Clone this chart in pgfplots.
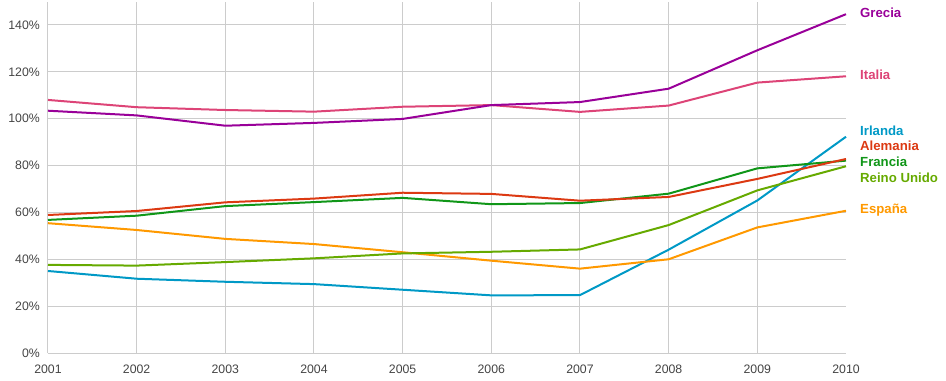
\documentclass[border=0pt]{standalone}
\usepackage{pgfplots}
\pgfplotsset{compat=1.18}
\usepackage{fontspec}
\setmainfont{Liberation Sans}
\definecolor{cGre}{HTML}{990099}
\definecolor{cIta}{HTML}{DD4477}
\definecolor{cIrl}{HTML}{0099C6}
\definecolor{cAle}{HTML}{DC3912}
\definecolor{cFra}{HTML}{109618}
\definecolor{cRei}{HTML}{66AA00}
\definecolor{cEsp}{HTML}{FF9900}
\definecolor{gridgray}{HTML}{CCCCCC}
\definecolor{ticktext}{HTML}{444444}
\begin{document}
\begin{tikzpicture}[x=1bp,y=1bp]
\useasboundingbox (-48,-27) rectangle (898,353);
\begin{axis}[
  scale only axis, width=798bp, height=351bp,
  xmin=2001, xmax=2010, ymin=0, ymax=149.8,
  xtick={2001,2002,...,2009}, ytick={0,20,...,140},
  extra x ticks={2010}, extra x tick style={grid=none},
  xticklabel style={/pgf/number format/1000 sep={}, /pgf/number format/assume math mode=true, anchor=base, inner sep=0pt, yshift=-20bp, font=\fontsize{12.3bp}{14bp}\selectfont, text=ticktext},
  yticklabel={\pgfmathprintnumber[assume math mode=true]{\tick}\%},
  yticklabel style={anchor=east, inner sep=0pt, xshift=-8bp, font=\fontsize{12.3bp}{14bp}\selectfont, text=ticktext},
  major tick length=0pt,
  axis line style={draw=none},
  grid=major, grid style={draw=gridgray, line width=1bp},
  clip=false,
  every axis plot/.append style={line width=2bp, mark=none},
]
% Irlanda
\addplot[cIrl] coordinates {(2001,35.0)(2002,31.7)(2003,30.4)(2004,29.4)(2005,27.0)(2006,24.6)(2007,24.7)(2008,44.1)(2009,65.1)(2010,92.3)};
% Espana
\addplot[cEsp] coordinates {(2001,55.4)(2002,52.5)(2003,48.7)(2004,46.5)(2005,43.0)(2006,39.4)(2007,36.0)(2008,40.0)(2009,53.6)(2010,60.7)};
% Reino Unido
\addplot[cRei] coordinates {(2001,37.6)(2002,37.3)(2003,38.8)(2004,40.4)(2005,42.5)(2006,43.2)(2007,44.2)(2008,54.6)(2009,69.4)(2010,79.7)};
% Francia
\addplot[cFra] coordinates {(2001,56.8)(2002,58.6)(2003,62.7)(2004,64.4)(2005,66.2)(2006,63.5)(2007,64.0)(2008,68.0)(2009,78.8)(2010,82.1)};
% Alemania
\addplot[cAle] coordinates {(2001,58.9)(2002,60.6)(2003,64.3)(2004,65.9)(2005,68.4)(2006,67.9)(2007,65.0)(2008,66.6)(2009,74.3)(2010,82.8)};
% Italia
\addplot[cIta] coordinates {(2001,108.0)(2002,104.9)(2003,103.7)(2004,103.0)(2005,105.1)(2006,105.8)(2007,102.9)(2008,105.6)(2009,115.4)(2010,118.1)};
% Grecia
\addplot[cGre] coordinates {(2001,103.4)(2002,101.4)(2003,97.0)(2004,98.2)(2005,99.9)(2006,105.8)(2007,107.1)(2008,112.8)(2009,129.2)(2010,144.6)};
\begin{scope}[every node/.style={anchor=base west, inner sep=0pt, xshift=14bp, font=\bfseries\fontsize{13.2bp}{15bp}\selectfont}]
\node[text=cGre] at (axis cs:2010,143.3) {Grecia};
\node[text=cIta] at (axis cs:2010,116.9) {Italia};
\node[text=cIrl] at (axis cs:2010,93.0) {Irlanda};
\node[text=cAle] at (axis cs:2010,86.3) {Alemania};
\node[text=cFra] at (axis cs:2010,79.5) {Francia};
\node[text=cRei] at (axis cs:2010,72.7) {Reino Unido};
\node[text=cEsp] at (axis cs:2010,59.6) {España};
\end{scope}
\end{axis}
\end{tikzpicture}
\end{document}
